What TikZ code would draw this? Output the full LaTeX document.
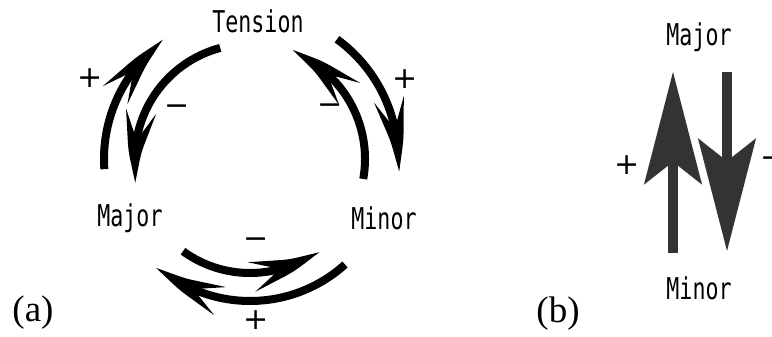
\documentclass[tikz,border=0pt]{standalone}
\usepackage{fontspec}
\newfontfamily\labelfont[FakeStretch=0.72]{DejaVu Sans Mono}
\newfontfamily\signfont{DejaVu Sans}
\newfontfamily\tagfont{Liberation Serif}
\usetikzlibrary{arrows.meta,bending,positioning}

\begin{document}
\begin{tikzpicture}[x=1pt, y=1pt,
  lbl/.style={font=\fontsize{30}{32}\selectfont\labelfont, inner sep=0pt},
  sign/.style={font=\fontsize{30}{32}\selectfont\signfont, inner sep=0pt},
  tag/.style={font=\fontsize{37}{40}\selectfont\tagfont, inner sep=0pt},
  arcarrow/.style={line width=8pt, -{Stealth[length=74pt, width=30pt, inset=30pt, bend]}},
  bararrow/.style={line width=10pt, black!80, -{Stealth[length=112pt, width=57pt, inset=22pt]}},
]
\clip (0,0) rectangle (772,337);

% (a) cycle
\coordinate (c) at (250,178);
\node[lbl] (tension) at (258,316) {Tension};
\node[lbl] (majorA) at (130,119) {Major};
\node[lbl] (minorA) at (384,119) {Minor};

% Major <-> Tension
\draw[arcarrow] (c) ++(184:146) arc[start angle=184, end angle=126, radius=146];
\draw[arcarrow] (c) ++(105:115) arc[start angle=105, end angle=192, radius=115];
% Minor <-> Tension
\draw[arcarrow] (c) ++(-10:115) arc[start angle=-10, end angle=69, radius=115];
\draw[arcarrow] (c) ++(54:148) arc[start angle=54, end angle=-5, radius=148];
% Major <-> Minor
\draw[arcarrow] (c) ++(234:114) arc[start angle=234, end angle=307, radius=114];
\draw[arcarrow] (c) ++(312:142) arc[start angle=312, end angle=229, radius=142];

\node[sign] (plusL) at (90,259) {+};
\node[sign] (minusL) at (177,227) {−};
\node[sign] (minusR) at (330,228) {−};
\node[sign] (plusR) at (405,258) {+};
\node[sign] (minusD) at (256,94) {−};
\node[sign] (plusD) at (256,17) {+};
\node[tag] (tagA) at (33,24) {(a)};

% (b) pair
\node[lbl] (majorB) at (699,300) {Major};
\node[lbl] (minorB) at (699,49) {Minor};
\draw[bararrow, shorten <=23pt, shorten >=20pt] ([xshift=-26pt]minorB.north) -- ([xshift=-26pt]majorB.south);
\draw[bararrow, shorten <=20pt, shorten >=25pt] ([xshift=28pt]majorB.south) -- ([xshift=28pt]minorB.north);
\node[sign] (plusB) at (627,172) {+};
\node[sign] (minusB) at (773,175) {−};
\node[tag] (tagB) at (558,23) {(b)};

\end{tikzpicture}
\end{document}
